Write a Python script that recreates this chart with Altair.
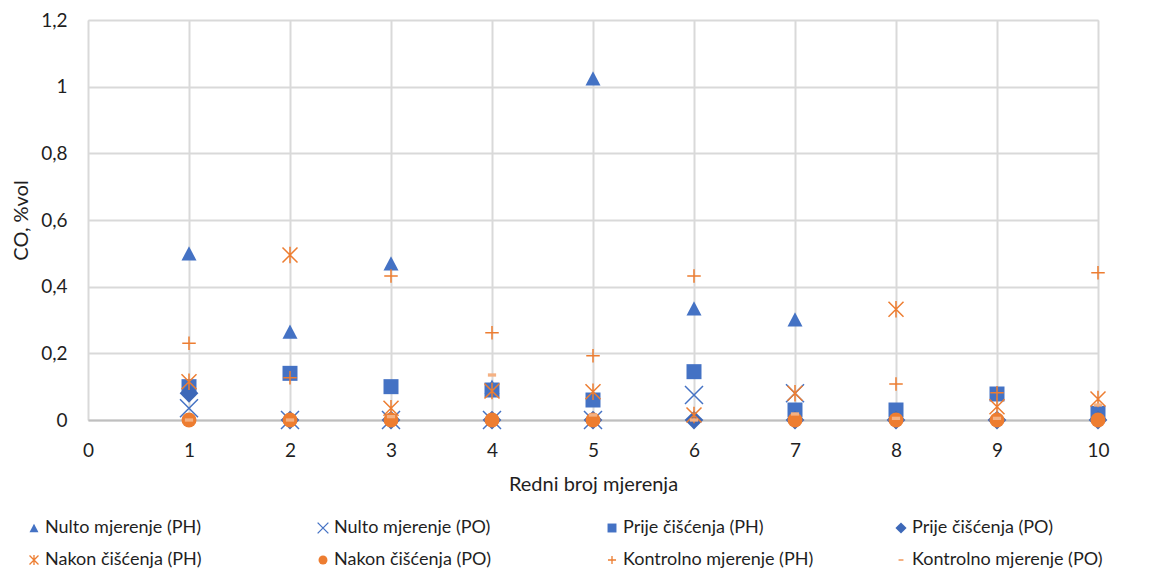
import altair as alt
import pandas as pd

# ---- data ----
x_vals = [1, 2, 3, 4, 5, 6, 7, 8, 9, 10]

series_names = [
    "Nulto mjerenje (PH)",
    "Nulto mjerenje (PO)",
    "Prije čišćenja (PH)",
    "Prije čišćenja (PO)",
    "Nakon čišćenja (PH)",
    "Nakon čišćenja (PO)",
    "Kontrolno mjerenje (PH)",
    "Kontrolno mjerenje (PO)",
]

nulto_ph = [0.50, 0.265, 0.47, 0.10, 1.025, 0.335, 0.302, None, None, None]
nulto_po = [0.035, 0.0, 0.0, 0.0, 0.0, 0.075, 0.08, None, None, None]
prije_ph = [0.10, 0.14, 0.10, 0.09, 0.06, 0.145, 0.03, 0.03, 0.078, 0.02]
prije_po = [0.08, 0.0, 0.0, 0.0, 0.0, 0.0, 0.0, 0.0, 0.0, 0.0]
nakon_ph = [0.115, 0.495, 0.035, 0.087, 0.085, 0.015, 0.08, 0.332, 0.04, 0.063]
nakon_po = [0.0, 0.0, 0.0, 0.0, 0.0, None, 0.0, 0.0, 0.0, 0.0]
kontrolno_ph = [0.23, 0.127, 0.432, 0.262, 0.193, 0.432, None, 0.108, 0.082, 0.442]
kontrolno_po = [0.0, 0.0, 0.01, 0.135, 0.015, 0.0, 0.018, 0.005, 0.005, 0.045]

y_ticks = [0, 0.2, 0.4, 0.6, 0.8, 1, 1.2]
x_ticks = [0, 1, 2, 3, 4, 5, 6, 7, 8, 9, 10]

all_series = [nulto_ph, nulto_po, prije_ph, prije_po,
              nakon_ph, nakon_po, kontrolno_ph, kontrolno_po]

rows = []
for name, vals in zip(series_names, all_series):
    for x, v in zip(x_vals, vals):
        if v is not None:
            rows.append({"x": x, "y": v, "serija": name})
df = pd.DataFrame(rows)
df["ord"] = range(len(df))

# ---- styling ----
BLUE = "#4472C4"
DBLUE = "#3D68B8"
ORANGE = "#ED7D31"
LORANGE = "#F4B183"
NONE = "transparent"

shapes = [
    "M0,-0.95L1,0.95L-1,0.95Z",                          # triangle
    "M-1.2,-1.2L1.2,1.2M-1.2,1.2L1.2,-1.2",              # x
    "square",
    "M-1.25,0L0,-1.25L1.25,0L0,1.25Z",                   # diamond
    "M-1,-1L1,1M-1,1L1,-1M0,-1.1L0,1.1",                 # asterisk
    "circle",
    "M-0.9,0L0.9,0M0,-0.9L0,0.9",                        # plus
    "M-0.55,-0.22L0.55,-0.22L0.55,0.22L-0.55,0.22Z",     # dash
]
fills = [BLUE, NONE, BLUE, DBLUE, NONE, ORANGE, NONE, LORANGE]
strokes = [NONE, BLUE, NONE, NONE, ORANGE, NONE, ORANGE, NONE]

FONT = "Lato"
TXT = "#1f1f1f"

legend = alt.Legend(
    title=None,
    orient="none",
    legendX=-63,
    legendY=499,
    columns=4,
    direction="horizontal",
    gridAlign="all",
    columnPadding=78,
    rowPadding=14,
    padding=0,
    symbolSize=80,
    symbolStrokeWidth=1.3,
    labelFont=FONT,
    labelFontSize=18,
    labelColor=TXT,
    labelOffset=2,
    labelLimit=400,
)

chart = (
    alt.Chart(df)
    .mark_point(size=225, strokeWidth=1.5, opacity=1, fillOpacity=1, strokeOpacity=1)
    .encode(
        x=alt.X(
            "x:Q",
            scale=alt.Scale(domain=[0, 10], nice=False, zero=True),
            axis=alt.Axis(
                values=x_ticks,
                title="Redni broj mjerenja",
                titleFont=FONT,
                titleFontSize=20,
                titleFontWeight="normal",
                titleColor=TXT,
                titleY=70,
                titleBaseline="alphabetic",
                labelFont=FONT,
                labelFontSize=19,
                labelColor=TXT,
                labelPadding=21,
                labelFlush=False,
                ticks=False,
                tickSize=0,
                domain=True,
                domainColor="#BFBFBF",
                domainWidth=2,
                grid=True,
                gridColor="#D9D9D9",
                gridWidth=2,
            ),
        ),
        y=alt.Y(
            "y:Q",
            scale=alt.Scale(domain=[0, 1.2], nice=False),
            axis=alt.Axis(
                values=y_ticks,
                labelExpr="replace(toString(datum.value), '.', ',')",
                title="CO, %vol",
                titleFont=FONT,
                titleFontSize=20,
                titleFontWeight="normal",
                titleColor=TXT,
                titleX=-67,
                titleY=200,
                titleAngle=270,
                titleAlign="center",
                titleBaseline="middle",
                labelFont=FONT,
                labelFontSize=19,
                labelColor=TXT,
                labelPadding=21,
                labelFlush=False,
                ticks=False,
                tickSize=0,
                domain=False,
                grid=True,
                gridColor="#D9D9D9",
                gridWidth=2,
            ),
        ),
        shape=alt.Shape("serija:N", scale=alt.Scale(domain=series_names, range=shapes), legend=legend),
        fill=alt.Fill("serija:N", scale=alt.Scale(domain=series_names, range=fills), legend=legend),
        stroke=alt.Stroke("serija:N", scale=alt.Scale(domain=series_names, range=strokes), legend=legend),
        order=alt.Order("ord:Q"),
    )
    .properties(
        width=1010,
        height=400,
        autosize=alt.AutoSizeParams(type="none"),
        padding={"left": 80, "top": 12, "right": 50, "bottom": 154},
    )
    .configure_view(stroke=None)
    .configure(background="white")
)

chart.save("out.html", embed_options={"renderer": "svg", "actions": False})
